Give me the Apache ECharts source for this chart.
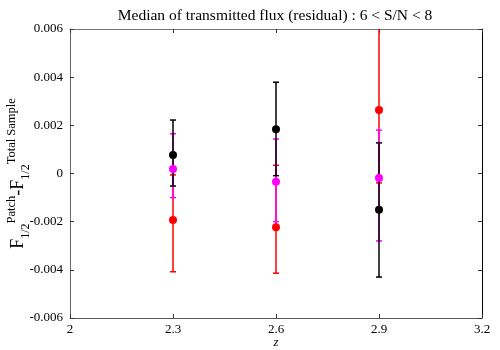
<!DOCTYPE html>
<html>
<head>
<meta charset="utf-8">
<script src="https://cdn.jsdelivr.net/npm/echarts@6/dist/echarts.min.js"></script>
<style>html,body{margin:0;padding:0;background:#fff}#c{width:500px;height:350px}</style>
</head>
<body>
<div id="c"></div>
<script>
// ---- data ----
const zVals = [2.3, 2.6, 2.9];
const blackMid  = [0.00077, 0.00184, -0.0015];
const blackLow  = [-0.00052, -0.00009, -0.0043];
const blackHigh = [0.00222, 0.00379, 0.00127];
const magMid  = [0.00019, -0.00034, -0.00019];
const magLow  = [-0.0010, -0.0020, -0.0028];
const magHigh = [0.00165, 0.00143, 0.0018];
const redMid  = [-0.00193, -0.00223, 0.00264];
const redLow  = [-0.00408, -0.00414, -0.00039];
const redHigh = [-0.00006, 0.00034, 0.0068];
const xTicks = [2, 2.3, 2.6, 2.9, 3.2];
const yTicks = [-0.006, -0.004, -0.002, 0, 0.002, 0.004, 0.006];
const titleText = 'Median of transmitted flux (residual) : 6 < S/N < 8';

const FONT = 'Liberation Serif';
const chart = echarts.init(document.getElementById('c'), null, {renderer: 'canvas'});

function errBar(color) {
  return function (params, api) {
    const x = api.value(0), lo = api.value(1), hi = api.value(2);
    const a = api.coord([x, lo]), b = api.coord([x, hi]);
    const hw = 3;
    const st = {stroke: color, lineWidth: 1.5};
    return {type: 'group', children: [
      {type: 'line', shape: {x1: a[0], y1: a[1], x2: b[0], y2: b[1]}, style: st},
      {type: 'line', shape: {x1: a[0] - hw, y1: a[1], x2: a[0] + hw, y2: a[1]}, style: st},
      {type: 'line', shape: {x1: b[0] - hw, y1: b[1], x2: b[0] + hw, y2: b[1]}, style: st}
    ]};
  };
}
function errSeries(low, high, color) {
  return {type: 'custom', renderItem: errBar(color), clip: true,
    encode: {x: 0, y: [1, 2]}, silent: true,
    data: zVals.map((z, i) => [z, low[i], high[i]])};
}
function ptSeries(mid, color) {
  return {type: 'scatter', symbol: 'circle', symbolSize: 8, silent: true,
    itemStyle: {color: color, opacity: 1},
    data: zVals.map((z, i) => [z, mid[i]])};
}
const fmtX = v => { const r = Math.round(v * 10) / 10; return xTicks.includes(r) ? String(r) : ''; };
const fmtY = v => { const r = Math.round(v * 1000) / 1000; return r === 0 ? '0' : r.toFixed(3); };

const axisCommonX = {
  type: 'value', min: xTicks[0], max: xTicks[xTicks.length - 1], interval: 0.3,
  splitLine: {show: false},
  axisTick: {inside: true, length: 4, lineStyle: {color: '#333'}}
};
const axisCommonY = {
  type: 'value', min: yTicks[0], max: yTicks[yTicks.length - 1], interval: 0.002,
  splitLine: {show: false},
  axisTick: {inside: true, length: 4, lineStyle: {color: '#333'}}
};

chart.setOption({
  animation: false,
  backgroundColor: '#fff',
  title: {text: titleText, left: 270, top: 3, textAlign: 'center',
    textStyle: {fontFamily: FONT, fontSize: 15.5, fontWeight: 'normal', color: '#000'}},
  grid: {left: 70, right: 18, top: 29, bottom: 32, containLabel: false, outerBoundsMode: 'none'},
  xAxis: [
    Object.assign({}, axisCommonX, {position: 'bottom',
      axisLine: {onZero: false, lineStyle: {color: '#555', width: 1}},
      axisLabel: {formatter: fmtX, fontFamily: FONT, fontSize: 13, color: '#000', margin: 5},
      name: 'z', nameLocation: 'middle', nameGap: 18, nameMoveOverlap: false,
      nameTextStyle: {fontFamily: FONT, fontSize: 13, fontStyle: 'italic', color: '#000'}}),
    Object.assign({}, axisCommonX, {position: 'top',
      axisLine: {onZero: false, lineStyle: {color: '#777', width: 1}},
      axisLabel: {show: false}})
  ],
  yAxis: [
    Object.assign({}, axisCommonY, {position: 'left',
      axisLine: {onZero: false, lineStyle: {color: '#666', width: 1}},
      axisLabel: {formatter: fmtY, fontFamily: FONT, fontSize: 13, color: '#000', margin: 7},
      name: '{F|F}{sub|1/2}{sup|Patch}{F|-F}{sub|1/2}{sup|Total Sample}',
      nameLocation: 'middle', nameGap: 38, nameRotate: 90, nameMoveOverlap: false,
      nameTextStyle: {fontFamily: FONT, color: '#000',
        rich: {
          F: {fontFamily: FONT, fontSize: 18, lineHeight: 27, verticalAlign: 'middle', color: '#000'},
          sub: {fontFamily: FONT, fontSize: 12, lineHeight: 12, verticalAlign: 'bottom', color: '#000'},
          sup: {fontFamily: FONT, fontSize: 12.5, lineHeight: 12, verticalAlign: 'top', color: '#000'}
        }}}),
    Object.assign({}, axisCommonY, {position: 'right',
      axisLine: {onZero: false, lineStyle: {color: '#000', width: 1}},
      axisLabel: {show: false}})
  ],
  series: [
    errSeries(redLow, redHigh, '#ff0000'),
    errSeries(magLow, magHigh, '#ff00ff'),
    errSeries(blackLow, blackHigh, '#000000'),
    ptSeries(redMid, '#ff0000'),
    ptSeries(magMid, '#ff00ff'),
    ptSeries(blackMid, '#000000')
  ]
});
</script>
</body>
</html>
